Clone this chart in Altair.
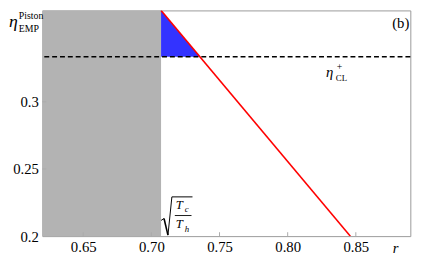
import altair as alt
import pandas as pd

# ---- values ----
x_domain = [0.62, 0.89]
y_domain = [0.2, 0.368]
x_ticks = [0.65, 0.70, 0.75, 0.80, 0.85]
y_ticks = [0.2, 0.25, 0.3]

sqrt_tc_th = 0.7071          # sqrt(Tc/Th), edge of gray region
eta_cl_plus = 0.3335         # dashed level

r_line = [0.7071, 0.846]     # red line
eta_line = [0.368, 0.2]

r_fill = [0.7071, 0.7356]    # blue triangle upper edge
eta_fill = [0.368, 0.3335]

W, H = 375, 230
SERIF = "Liberation Serif, Times New Roman, DejaVu Serif, serif"

xs = alt.Scale(domain=x_domain, nice=False, zero=False)
ys = alt.Scale(domain=y_domain, nice=False, zero=False)
xaxis = alt.Axis(values=x_ticks, format=".2f", title=None, grid=False, ticks=False,
                 domain=False, labelFont=SERIF, labelFontSize=15, labelColor="black",
                 labelPadding=4)
yaxis = alt.Axis(values=y_ticks, format="~g", title=None, grid=False, ticks=False,
                 domain=False, labelFont=SERIF, labelFontSize=15, labelColor="black",
                 labelPadding=4)

gray = alt.Chart(pd.DataFrame({"x": [x_domain[0]], "x2": [sqrt_tc_th],
                               "y": [y_domain[0]], "y2": [y_domain[1]]})).mark_rect(
    color="#b3b3b3").encode(
    x=alt.X("x:Q", scale=xs, axis=xaxis), x2="x2",
    y=alt.Y("y:Q", scale=ys, axis=yaxis), y2="y2")

fill = alt.Chart(pd.DataFrame({"r": r_fill, "eta": eta_fill,
                               "base": [eta_cl_plus] * len(r_fill)})).mark_area(
    color="#3333ff", opacity=1).encode(
    x=alt.X("r:Q", scale=xs, axis=xaxis),
    y=alt.Y("eta:Q", scale=ys, axis=yaxis), y2="base")

dashed = alt.Chart(pd.DataFrame({"eta": [eta_cl_plus]})).mark_rule(
    color="black", strokeWidth=1.5, strokeDash=[5, 3]).encode(
    y=alt.Y("eta:Q", scale=ys, axis=yaxis))

red = alt.Chart(pd.DataFrame({"r": r_line, "eta": eta_line})).mark_line(
    color="#ff0000", strokeWidth=1.6, clip=True).encode(
    x=alt.X("r:Q", scale=xs, axis=xaxis),
    y=alt.Y("eta:Q", scale=ys, axis=yaxis))

xt = alt.Chart(pd.DataFrame({"t": x_ticks})).mark_rule(color="#aaaaaa").encode(
    x=alt.X("t:Q", scale=xs, axis=xaxis), y=alt.value(H), y2=alt.value(H - 4))
yt = alt.Chart(pd.DataFrame({"t": y_ticks[1:]})).mark_rule(color="#aaaaaa").encode(
    y=alt.Y("t:Q", scale=ys, axis=yaxis), x=alt.value(0), x2=alt.value(4))

one = alt.Data(values=[{}])


def txt(s, x, y, size, italic=False, align="left"):
    kw = dict(text=s, font=SERIF, fontSize=size, align=align, baseline="alphabetic",
              color="black")
    if italic:
        kw["fontStyle"] = "italic"
    return alt.Chart(one).mark_text(**kw).encode(x=alt.value(x), y=alt.value(y))


def seg(x1, y1, x2, y2, w=1.0):
    return alt.Chart(one).mark_rule(color="black", strokeWidth=w).encode(
        x=alt.value(x1), y=alt.value(y1), x2=alt.value(x2), y2=alt.value(y2))


texts = [
    # eta_EMP^Piston
    txt("η", -34, 17, 18, italic=True),
    txt("Piston", -24, 9, 10),
    txt("EMP", -24, 22, 10),
    # (b)
    txt("(b)", 374, 18, 15, align="right"),
    # eta_CL^+
    txt("η", 289, 68, 15, italic=True),
    txt("+", 300, 61, 10),
    txt("CL", 299, 72, 9),
    # r axis title
    txt("r", 357, 247, 15, italic=True),
    # sqrt(Tc/Th)
    txt("T", 136, 202, 13, italic=True),
    txt("c", 145, 205, 9, italic=True),
    txt("T", 136, 222, 13, italic=True),
    txt("h", 145, 226, 9, italic=True),
]
radical = [
    seg(121, 214, 124, 212, 1.0),
    seg(124, 212, 128, 229, 1.6),
    seg(128, 229, 132, 190, 1.0),
    seg(132, 190, 153, 190, 1.0),
    seg(135, 209, 152, 209, 0.9),
]

chart = alt.layer(gray, fill, dashed, red, xt, yt, *radical, *texts).properties(
    width=W, height=H,
    autosize=alt.AutoSizeParams(type="none"),
    padding={"left": 35, "top": 0, "right": 18, "bottom": 30},
).configure_view(stroke="#9a9a9a", strokeWidth=1).configure_axis(
    labelFont=SERIF, labelFontSize=15, labelColor="black")

chart.save("out.html", embed_options={"renderer": "svg", "actions": False})
